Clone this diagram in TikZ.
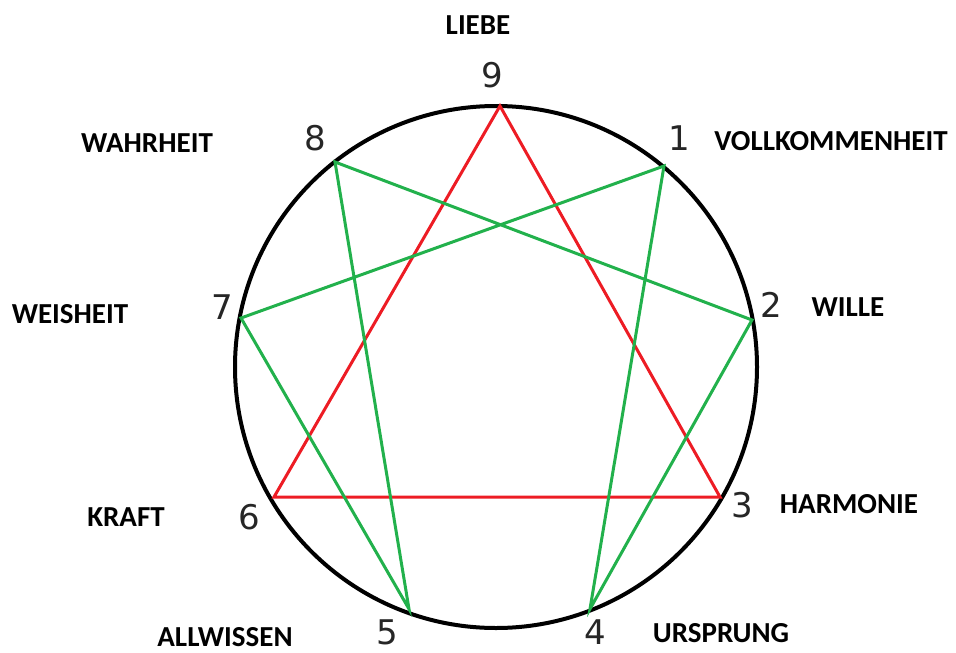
\documentclass[tikz,border=0pt]{standalone}
\usepackage{fontspec}
\setmainfont{Carlito}
\newfontfamily\digitfont{DejaVu Sans}
\usepackage{tikz}

\definecolor{ennred}{RGB}{237,28,36}
\definecolor{enngreen}{RGB}{34,177,76}

\tikzset{
  digit/.style={inner sep=0pt, font=\digitfont\fontsize{34}{34}\selectfont, text=black!85},
  virtue/.style={inner sep=0pt, font=\bfseries\fontsize{29}{29}\selectfont},
}

\begin{document}
\begin{tikzpicture}[x=1pt, y=-1pt]
    \useasboundingbox (0,0) rectangle (956,653);

    % Circle
    \draw[line width=4pt, black] (496,367) circle (261pt);

    % Points on the circle
    \coordinate (p9) at (500,106);
    \coordinate (p1) at (664,166);
    \coordinate (p2) at (752,320);
    \coordinate (p3) at (720,497);
    \coordinate (p4) at (590,609);
    \coordinate (p5) at (409,609);
    \coordinate (p6) at (274,497);
    \coordinate (p7) at (241,318);
    \coordinate (p8) at (335,162);

    % Triangle 9-3-6
    \draw[line width=3pt, ennred, line join=miter] (p9) -- (p3) -- (p6) -- cycle;

    % Hexad 1-4-2-8-5-7
    \draw[line width=3pt, enngreen, line join=miter] (p1) -- (p4) -- (p2) -- (p8) -- (p5) -- (p7) -- cycle;

    % Numbers
    \node[digit] (n9) at (492,75) {9};
    \node[digit] (n1) at (679,138) {1};
    \node[digit] (n2) at (771,305) {2};
    \node[digit] (n3) at (742,505) {3};
    \node[digit] (n4) at (595,632) {4};
    \node[digit] (n5) at (387,632) {5};
    \node[digit] (n6) at (249,517) {6};
    \node[digit] (n7) at (222,307) {7};
    \node[digit] (n8) at (315,138) {8};

    % Labels
    \node[virtue] (liebe) at (478,25) {LIEBE};
    \node[virtue] (vollkommenheit) at (831,141) {VOLLKOMMENHEIT};
    \node[virtue] (wille) at (848,307) {WILLE};
    \node[virtue] (harmonie) at (849,504) {HARMONIE};
    \node[virtue] (ursprung) at (721,633) {URSPRUNG};
    \node[virtue] (allwissen) at (225,637) {ALLWISSEN};
    \node[virtue] (kraft) at (126,517) {KRAFT};
    \node[virtue] (weisheit) at (70,314) {WEISHEIT};
    \node[virtue] (wahrheit) at (147,143) {WAHRHEIT};
\end{tikzpicture}
\end{document}
